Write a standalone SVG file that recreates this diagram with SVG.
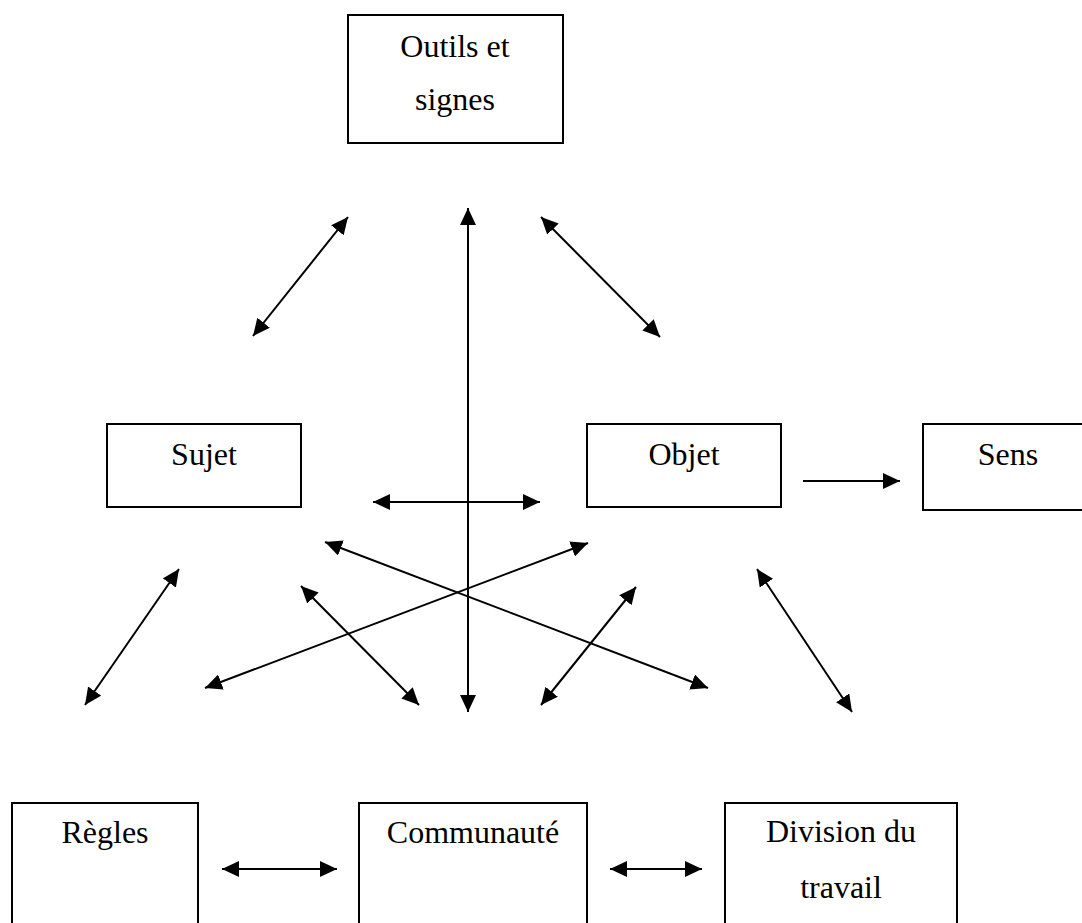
<svg xmlns="http://www.w3.org/2000/svg" width="1082" height="923" viewBox="0 0 1082 923">
<style>
rect.box{fill:#fff;stroke:#000;stroke-width:2}
text{font-family:"Liberation Serif","Times New Roman",serif;font-size:32px;fill:#000;text-anchor:middle}
.c line{stroke:#000;stroke-width:2}
.bi{marker-start:url(#ah);marker-end:url(#ah)}
.one{marker-end:url(#ah)}
</style>
<defs>
<marker id="ah" markerUnits="userSpaceOnUse" markerWidth="17" markerHeight="16" refX="17" refY="8" orient="auto-start-reverse" viewBox="0 0 17 16">
<path d="M0,0 L17,8 L0,16 z" fill="#000"/>
</marker>
</defs>
<rect width="1082" height="923" fill="#fff"/>
<g id="outils"><rect class="box" x="348" y="15" width="215" height="128"/><text x="455" y="57">Outils et</text><text x="455" y="110">signes</text></g>
<g id="sujet"><rect class="box" x="107" y="424" width="194" height="83"/><text x="204" y="465">Sujet</text></g>
<g id="objet"><rect class="box" x="587" y="424" width="194" height="83"/><text x="684" y="465">Objet</text></g>
<g id="sens"><rect class="box" x="923" y="424" width="170" height="86"/><text x="1008" y="465">Sens</text></g>
<g id="regles"><rect class="box" x="12" y="803" width="186" height="140"/><text x="105" y="843">Règles</text></g>
<g id="communaute"><rect class="box" x="359" y="803" width="228" height="140"/><text x="473" y="843">Communauté</text></g>
<g id="division"><rect class="box" x="725" y="803" width="232" height="140"/><text x="841" y="842">Division du</text><text x="841" y="898">travail</text></g>
<g class="c" id="connectors">
<line class="bi" x1="253" y1="336" x2="348" y2="217"/>
<line class="bi" x1="468" y1="208" x2="468" y2="712"/>
<line class="bi" x1="541" y1="217" x2="660" y2="337"/>
<line class="bi" x1="373" y1="502" x2="540" y2="502"/>
<line class="one" x1="803" y1="481" x2="900" y2="481"/>
<line class="bi" x1="85" y1="705" x2="179" y2="569"/>
<line class="bi" x1="205" y1="688" x2="588" y2="543"/>
<line class="bi" x1="325" y1="542" x2="708" y2="688"/>
<line class="bi" x1="301" y1="586" x2="419" y2="705"/>
<line class="bi" x1="541" y1="705" x2="636" y2="587"/>
<line class="bi" x1="757" y1="569" x2="852" y2="712"/>
<line class="bi" x1="222" y1="869" x2="337" y2="869"/>
<line class="bi" x1="610" y1="869" x2="702" y2="869"/>
</g>
</svg>
